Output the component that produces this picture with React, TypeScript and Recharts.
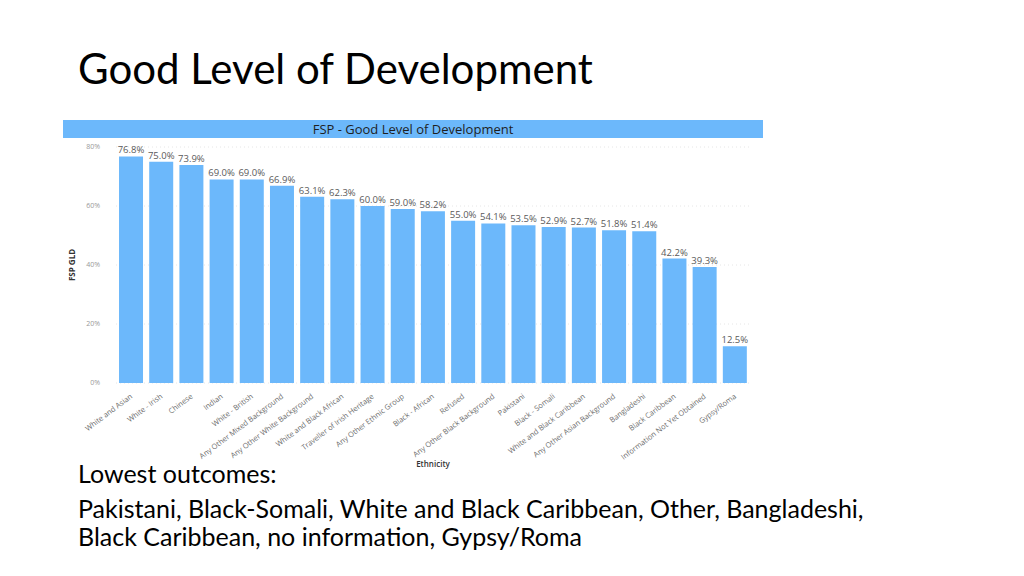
import React from 'react';
import { BarChart, Bar, XAxis, YAxis, CartesianGrid, LabelList } from 'recharts';

const ethnicities = [
  'White and Asian',
  'White - Irish',
  'Chinese',
  'Indian',
  'White - British',
  'Any Other Mixed Background',
  'Any Other White Background',
  'White and Black African',
  'Traveller of Irish Heritage',
  'Any Other Ethnic Group',
  'Black - African',
  'Refused',
  'Any Other Black Background',
  'Pakistani',
  'Black - Somali',
  'White and Black Caribbean',
  'Any Other Asian Background',
  'Bangladeshi',
  'Black Caribbean',
  'Information Not Yet Obtained',
  'Gypsy/Roma',
];

const gldPercent = [
  76.8, 75.0, 73.9, 69.0, 69.0, 66.9, 63.1, 62.3, 60.0, 59.0, 58.2, 55.0, 54.1, 53.5, 52.9, 52.7,
  51.8, 51.4, 42.2, 39.3, 12.5,
];

const yTicks = [0, 20, 40, 60, 80];

const lowestOutcomes = [
  'Pakistani, Black-Somali, White and Black Caribbean, Other, Bangladeshi,',
  'Black Caribbean, no information, Gypsy/Roma',
];

const BAR_BLUE = '#6cb8fb';
const slideFont = 'Lato, "Noto Sans", sans-serif';
const chartFont = '"Open Sans", "Noto Sans", sans-serif';

const data = ethnicities.map((name, i) => ({ name, value: gldPercent[i] }));

const AngledTick = (props: any) => {
  const { x, y, payload } = props;
  return (
    <g transform={`translate(${x},${y + 4})`}>
      <text
        textAnchor="end"
        transform="rotate(-37)"
        fontSize={7.5}
        fill="#6f6f6f"
        fontFamily={chartFont}
        dy={3}
      >
        {payload.value}
      </text>
    </g>
  );
};

export default function App() {
  return (
    <div
      style={{
        position: 'absolute',
        left: 0,
        top: 0,
        width: 1024,
        height: 576,
        background: '#fff',
        overflow: 'hidden',
      }}
    >
      <div
        style={{
          position: 'absolute',
          left: 78,
          top: 43,
          fontFamily: slideFont,
          fontSize: 42,
          color: '#000',
          whiteSpace: 'nowrap',
          lineHeight: 1.2,
        }}
      >
        Good Level of Development
      </div>

      {/* chart header strip */}
      <div
        style={{
          position: 'absolute',
          left: 63,
          top: 120,
          width: 700,
          height: 18,
          background: BAR_BLUE,
          fontFamily: chartFont,
          fontSize: 13,
          color: '#1f1f1f',
          textAlign: 'center',
          lineHeight: '18px',
        }}
      >
        FSP - Good Level of Development
      </div>

      <div style={{ position: 'absolute', left: 63, top: 138 }}>
        <BarChart
          width={700}
          height={335}
          data={data}
          margin={{ top: 9, right: 13, left: 0, bottom: 0 }}
          barCategoryGap="10%"
        >
          <CartesianGrid vertical={false} strokeDasharray="1 3" stroke="#e6e6e6" />
          <XAxis
            dataKey="name"
            interval={0}
            height={90}
            tickLine={false}
            axisLine={false}
            tick={<AngledTick />}
            label={{
              value: 'Ethnicity',
              position: 'insideBottom',
              offset: 6,
              style: { fontSize: 8, fill: '#333', fontFamily: chartFont, fontWeight: 600 },
            }}
          />
          <YAxis
            width={53}
            domain={[0, 80]}
            ticks={yTicks}
            tickFormatter={(v: number) => `${v}%`}
            tickLine={false}
            axisLine={false}
            tickMargin={10}
            tick={{ fontSize: 7, fill: '#999', fontFamily: chartFont }}
            label={{
              value: 'FSP GLD',
              angle: -90,
              position: 'insideLeft',
              offset: 9,
              style: { fontSize: 8, fill: '#333', fontFamily: chartFont, fontWeight: 700, textAnchor: 'middle' },
            }}
          />
          <Bar dataKey="value" fill={BAR_BLUE} isAnimationActive={false}>
            <LabelList
              dataKey="value"
              position="top"
              offset={3}
              formatter={(v: any) => `${Number(v).toFixed(1)}%`}
              style={{ fontSize: 9.5, fill: '#5a5a5a', fontFamily: chartFont }}
            />
          </Bar>
        </BarChart>
      </div>

      <div
        style={{
          position: 'absolute',
          left: 78,
          top: 459,
          fontFamily: slideFont,
          fontSize: 25,
          color: '#000',
          lineHeight: '28px',
          whiteSpace: 'nowrap',
        }}
      >
        <div style={{ marginBottom: 7 }}>Lowest outcomes:</div>
        {lowestOutcomes.map((line) => (
          <div key={line}>{line}</div>
        ))}
      </div>
    </div>
  );
}
